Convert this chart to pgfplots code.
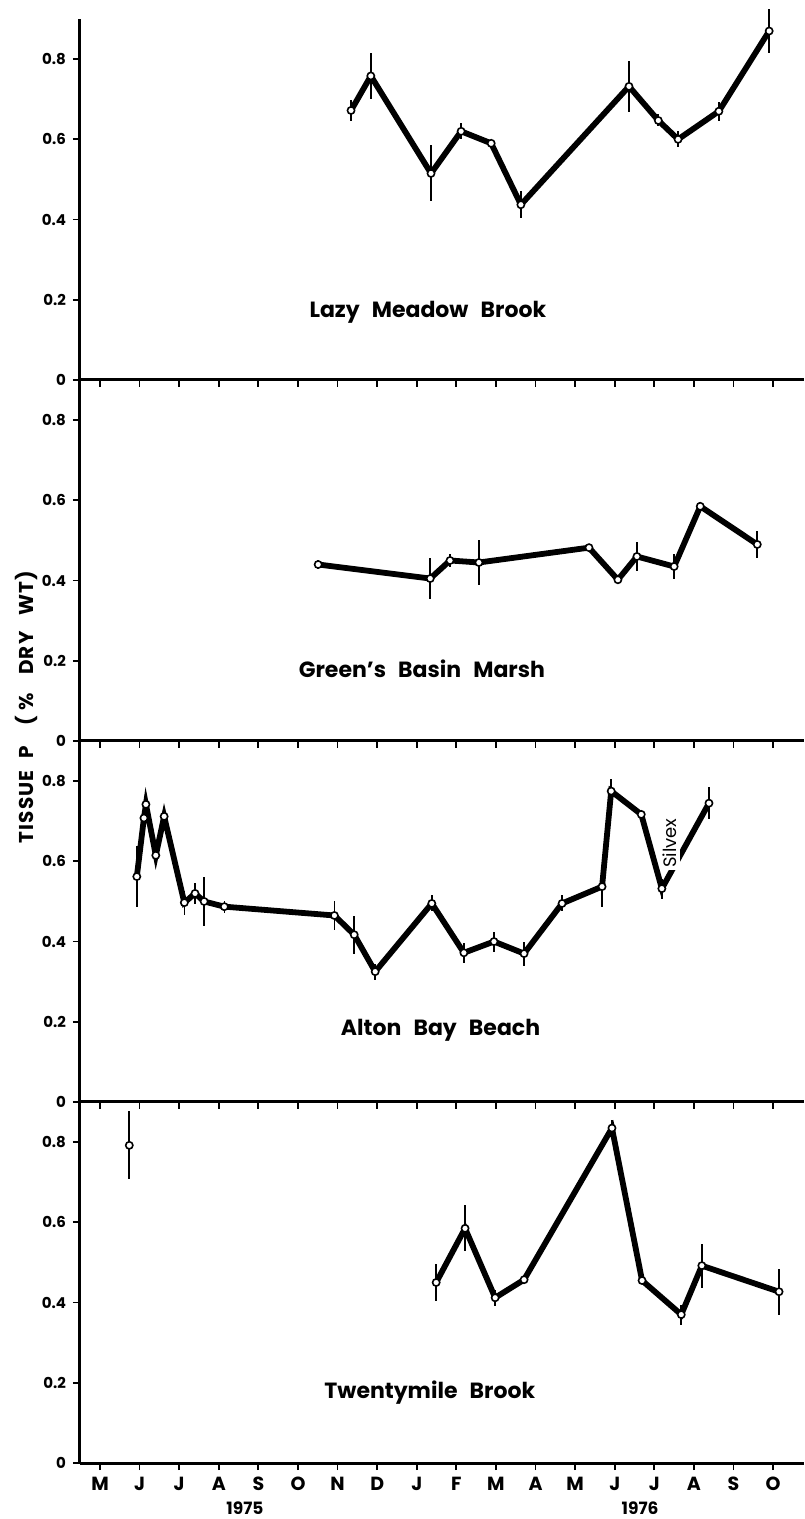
\documentclass[border=0pt]{standalone}
\usepackage{pgfplots}
\pgfplotsset{compat=1.18}
\usepackage{pgfplotstable}
\usepackage{fontspec}
\setmainfont{Poppins}

% month index: 0 = May 1975 ... 17 = Oct 1976
\pgfplotstableread{
x y e
6.34 0.672 0.027
6.84 0.758 0.058
8.36 0.515 0.070
9.12 0.620 0.020
9.88 0.590 0.008
10.63 0.437 0.033
13.36 0.732 0.063
14.10 0.647 0.015
14.60 0.600 0.020
15.63 0.670 0.024
16.90 0.870 0.054
}\lazy

\pgfplotstableread{
x y e
5.51 0.440 0.010
8.34 0.405 0.050
8.84 0.450 0.015
9.57 0.445 0.055
12.35 0.482 0.008
13.08 0.402 0.008
13.56 0.460 0.035
14.50 0.435 0.030
15.16 0.585 0.010
16.60 0.490 0.033
}\green

\pgfplotstableread{
x y e
0.93 0.562 0.075
1.11 0.708 0.015
1.16 0.742 0.022
1.41 0.615 0.020
1.62 0.712 0.015
2.13 0.497 0.030
2.40 0.520 0.027
2.63 0.500 0.062
3.14 0.487 0.015
5.92 0.465 0.035
6.42 0.417 0.047
6.95 0.325 0.020
8.38 0.495 0.020
9.19 0.372 0.025
9.95 0.400 0.025
10.71 0.370 0.030
11.67 0.495 0.020
12.68 0.537 0.050
12.91 0.775 0.030
13.67 0.717 0.008
14.19 0.532 0.025
15.38 0.745 0.040
}\alton

\pgfplotstableread{
x y e
8.49 0.450 0.045
9.22 0.585 0.057
9.98 0.412 0.020
10.71 0.457 0.008
12.93 0.835 0.020
13.69 0.455 0.008
14.68 0.370 0.025
15.20 0.492 0.055
17.15 0.427 0.057
}\twenty

\pgfplotsset{
  panel/.style={
    width=362pt, height=180.5pt, scale only axis,
    xmin=-0.505, xmax=17.78, ymin=0, ymax=0.9,
    axis lines*=left,
    axis line style={line width=1.5pt},
    tick align=outside, major tick length=3.5pt,
    tick style={line width=0.9pt, black},
    xtick={0,...,17}, xticklabels={},
    ytick={0,0.2,0.4,0.6,0.8},
    yticklabel style={font=\fontsize{7.5}{8}\selectfont\bfseries},
    /pgf/number format/assume math mode=true,
    /pgf/number format/fixed,
    clip=false,
    anchor=south west,
  },
  ser/.style={black, line width=2.9pt, mark=*, mark size=1.8pt,
    mark options={fill=white, line width=0.8pt, solid},
    error bars/.cd, y dir=both, y explicit, error mark=none,
    error bar style={line width=0.8pt}},
}
\tikzset{site/.style={font=\fontsize{11}{13}\selectfont\bfseries}}

\begin{document}
\begin{tikzpicture}
\useasboundingbox (-40pt,-28pt) rectangle (362pt,731.5pt);

\begin{axis}[panel, at={(0pt,541.5pt)}]
  \addplot[ser] table[x=x, y=y, y error=e] {\lazy};
  \node[site] at (axis cs:8.28,0.17) {Lazy\hspace{0.55em}Meadow\hspace{0.55em}Brook};
\end{axis}

\begin{axis}[panel, at={(0pt,361pt)}]
  \addplot[ser] table[x=x, y=y, y error=e] {\green};
  \node[site] at (axis cs:8.13,0.18) {Green's\hspace{0.55em}Basin\hspace{0.55em}Marsh};
\end{axis}

\begin{axis}[panel, at={(0pt,180.5pt)}]
  \addplot[ser] table[x=x, y=y, y error=e] {\alton};
  \node[rotate=90, fill=white, inner sep=1.2pt, font=\fontsize{9}{10}\selectfont] at (axis cs:14.4,0.645) {Silvex};
  \node[site] at (axis cs:8.6,0.178) {Alton\hspace{0.55em}Bay\hspace{0.55em}Beach};
\end{axis}

\begin{axis}[panel, at={(0pt,0pt)},
    xticklabels={M,J,J,A,S,O,N,D,J,F,M,A,M,J,J,A,S,O},
    xticklabel style={font=\fontsize{9.5}{10}\selectfont\bfseries}]
  \addplot[ser] coordinates {(0.74,0.792) +- (0,0.085)};
  \addplot[ser] table[x=x, y=y, y error=e] {\twenty};
  \node[site] at (axis cs:8.33,0.175) {Twentymile\hspace{0.55em}Brook};
  \node[font=\fontsize{8.5}{9}\selectfont\bfseries] at (axis cs:3.66,-0.1125) {1975};
  \node[font=\fontsize{8.5}{9}\selectfont\bfseries] at (axis cs:13.64,-0.1125) {1976};
\end{axis}

\node[rotate=90, font=\fontsize{10}{11}\selectfont\bfseries\addfontfeature{LetterSpace=6}]
  at (-27pt,378pt) {TISSUE\hspace{6pt}P\hspace{10pt}(\hspace{3pt}\%\hspace{9pt}DRY\hspace{8pt}WT)};
\end{tikzpicture}
\end{document}
